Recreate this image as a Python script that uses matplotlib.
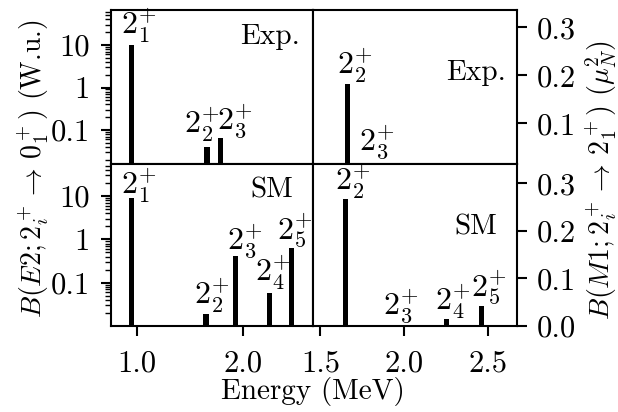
import matplotlib
matplotlib.use('Agg')
import matplotlib.pyplot as plt
from matplotlib.ticker import LogLocator, NullFormatter

plt.rcParams['font.family'] = 'serif'
plt.rcParams['font.serif'] = ['cmr10']
plt.rcParams['mathtext.fontset'] = 'cm'
plt.rcParams['axes.formatter.use_mathtext'] = True

# experiment, B(E2) in W.u.
exp_e2_energy = [0.95, 1.66, 1.79]
exp_e2_value = [10.0, 0.040, 0.064]
exp_e2_level = ['1', '2', '3']

# experiment, B(M1) in mu_N^2
exp_m1_energy = [1.66, 1.79]
exp_m1_value = [0.181, 0.0]
exp_m1_level = ['2', '3']

# shell model
sm_e2_energy = [0.95, 1.65, 1.93, 2.25, 2.46]
sm_e2_value = [9.1, 0.019, 0.41, 0.059, 0.64]
sm_e2_level = ['1', '2', '3', '4', '5']

sm_m1_energy = [1.65, 1.93, 2.25, 2.46]
sm_m1_value = [0.268, 0.0, 0.014, 0.042]
sm_m1_level = ['2', '3', '4', '5']

# label nudges in pixels (dx, dy) from the top of each bar
exp_e2_nudge = [(7, 0), (-5, 3), (14, -2)]
exp_m1_nudge = [(7, -1), (8, 3)]
sm_e2_nudge = [(7, -7), (6, -1), (9, -4), (3, 1), (3, -2)]
sm_m1_nudge = [(7, -2), (8, 1), (6, -2), (7, -1)]

W, H = 618, 412
fig = plt.figure(figsize=(W / 100, H / 100), dpi=100)


def box(x0, y0, x1, y1):
    return [x0 / W, 1 - y1 / H, (x1 - x0) / W, (y1 - y0) / H]


ax_tl = fig.add_axes(box(111, 10, 313, 164.3))
ax_tr = fig.add_axes(box(313, 10, 517, 164.3))
ax_bl = fig.add_axes(box(111, 164.3, 313, 326))
ax_br = fig.add_axes(box(313, 164.3, 517, 326))

panels = [
    (ax_tl, exp_e2_energy, exp_e2_value, exp_e2_level, exp_e2_nudge, 0.05),
    (ax_tr, exp_m1_energy, exp_m1_value, exp_m1_level, exp_m1_nudge, 0.03),
    (ax_bl, sm_e2_energy, sm_e2_value, sm_e2_level, sm_e2_nudge, 0.05),
    (ax_br, sm_m1_energy, sm_m1_value, sm_m1_level, sm_m1_nudge, 0.03),
]

for ax in (ax_tl, ax_bl):
    ax.set_yscale('log')
    ax.set_xlim(0.755, 2.66)
for ax in (ax_tr, ax_br):
    ax.set_xlim(1.456, 2.67)

ax_tl.set_ylim(0.0156, 66.7)
ax_bl.set_ylim(0.01, 53.8)
ax_tr.set_ylim(0.0146, 0.336)
ax_br.set_ylim(0.0, 0.34)

for ax, energy, value, level, nudge, w in panels:
    ax.bar(energy, value, width=w, color='black')
    y0 = ax.get_ylim()[0]
    for e, v, lv, (dx, dy) in zip(energy, value, level, nudge):
        ax.annotate('$2_{%s}^{+}$' % lv, xy=(e, max(v, y0)),
                    xytext=(dx, dy), textcoords='offset pixels',
                    ha='center', va='bottom', fontsize=23)
    for s in ax.spines.values():
        s.set_linewidth(1.5)
    ax.tick_params(which='major', length=7.5, width=1.5, labelsize=22)
    ax.tick_params(which='minor', length=4.3, width=1.0)

for ax in (ax_tl, ax_bl):
    ax.set_yticks([0.1, 1, 10], labels=['0.1', '1', '10'])
    ax.yaxis.set_minor_locator(LogLocator(base=10, subs=range(2, 10), numticks=20))
    ax.yaxis.set_minor_formatter(NullFormatter())
    ax.tick_params(axis='y', pad=8)

ax_tr.set_yticks([0.1, 0.2, 0.3], labels=['0.1', '0.2', '0.3'])
ax_br.set_yticks([0.0, 0.1, 0.2, 0.3], labels=['0.0', '0.1', '0.2', '0.3'])
for ax in (ax_tr, ax_br):
    ax.yaxis.tick_right()
    ax.tick_params(axis='y', pad=7)

for ax in (ax_tl, ax_tr):
    ax.tick_params(axis='x', which='both', bottom=False, labelbottom=False)

ax_bl.set_xticks([1.0, 2.0], labels=['1.0', '2.0'])
ax_br.set_xticks([1.5, 2.0, 2.5], labels=['1.5', '2.0', '2.5'])
for ax in (ax_bl, ax_br):
    ax.tick_params(axis='x', pad=10)

ax_tl.text(0.936, 0.778, 'Exp.', transform=ax_tl.transAxes, ha='right', va='baseline', fontsize=21)
ax_tr.text(0.946, 0.546, 'Exp.', transform=ax_tr.transAxes, ha='right', va='baseline', fontsize=21)
ax_bl.text(0.90, 0.792, 'SM', transform=ax_bl.transAxes, ha='right', va='baseline', fontsize=21)
ax_br.text(0.902, 0.563, 'SM', transform=ax_br.transAxes, ha='right', va='baseline', fontsize=21)

fig.text(33 / W, 1 - 169 / H, r'$B(E2;2_i^+\rightarrow\,0_1^+)$ (W.u.)',
         rotation=90, ha='center', va='center', fontsize=20)
fig.text(601 / W, 1 - 180 / H, r'$B(M1;2_i^+\rightarrow\,2_1^+)$ $(\mu_N^2)$',
         rotation=90, ha='center', va='center', fontsize=20)
fig.text(313 / W, 1 - 392 / H, 'Energy (MeV)', ha='center', va='center', fontsize=21)

fig.savefig('out.png', dpi=100)
